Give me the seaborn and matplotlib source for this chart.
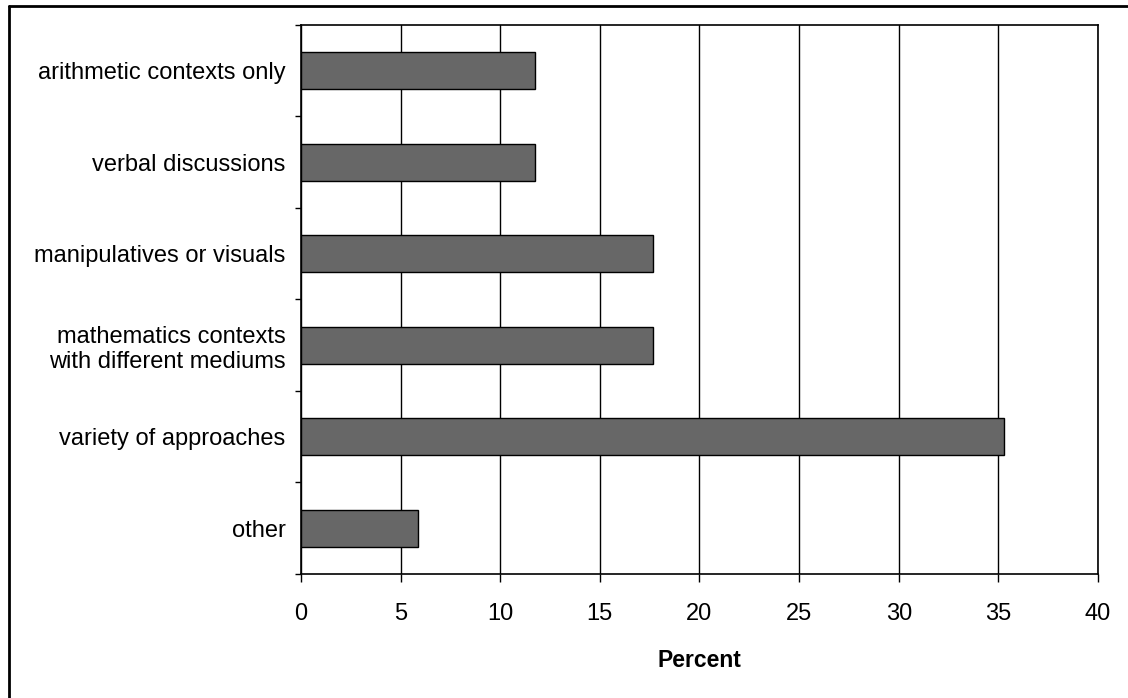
import matplotlib
matplotlib.use("Agg")
import matplotlib.pyplot as plt
from matplotlib.lines import Line2D
from matplotlib.ticker import FixedLocator
import seaborn as sns
import pandas as pd

categories = [
    "arithmetic contexts only",
    "verbal discussions",
    "manipulatives or visuals",
    "mathematics contexts\nwith different mediums",
    "variety of approaches",
    "other",
]
percent = [11.76, 11.76, 17.65, 17.65, 35.29, 5.88]
x_ticks = [0, 5, 10, 15, 20, 25, 30, 35, 40]

sns.set_theme(style="white")
plt.rcParams["font.family"] = ["Liberation Sans", "DejaVu Sans"]
plt.rcParams["text.color"] = "black"
plt.rcParams["xtick.color"] = "black"
plt.rcParams["ytick.color"] = "black"
plt.rcParams["axes.labelcolor"] = "black"

df = pd.DataFrame({"category": categories, "percent": percent})

fig = plt.figure(figsize=(11.28, 6.98), dpi=100)
ax = fig.add_axes([0.2668, 0.1777, 0.7066, 0.7865])

sns.barplot(data=df, x="percent", y="category", orient="h", ax=ax,
            color="#676767", saturation=1, width=0.4,
            edgecolor="black", linewidth=1.0, zorder=3)

ax.set_xlim(0, 40)
ax.set_ylim(len(categories) - 0.5, -0.5)
ax.set_xticks(x_ticks)
ax.set_xticklabels([str(t) for t in x_ticks])
ax.grid(axis="x", color="black", linewidth=1.0, zorder=0)
ax.set_axisbelow(True)

for s in ax.spines.values():
    s.set_visible(True)
    s.set_color("black")
    s.set_linewidth(1.2)

ax.tick_params(axis="x", direction="out", length=6, width=1,
               labelsize=17, pad=15, bottom=True)
ax.tick_params(axis="y", which="major", length=0, labelsize=17, pad=11)
ax.yaxis.set_minor_locator(FixedLocator([i - 0.5 for i in range(len(categories) + 1)]))
ax.tick_params(axis="y", which="minor", left=True, direction="out",
               length=4, width=1)
for lbl in ax.get_yticklabels():
    lbl.set_multialignment("right")
    lbl.set_linespacing(1.2)

ax.set_ylabel("")
ax.set_xlabel("Percent", fontsize=16.5, fontweight="bold", labelpad=17)

# outer frame of the figure (left and top edges)
fig.add_artist(Line2D([9 / 1128, 9 / 1128], [0, 1 - 6 / 698],
                      transform=fig.transFigure, color="black", linewidth=2))
fig.add_artist(Line2D([9 / 1128, 1], [1 - 6 / 698, 1 - 6 / 698],
                      transform=fig.transFigure, color="black", linewidth=2))

fig.savefig("out.png", dpi=100)
